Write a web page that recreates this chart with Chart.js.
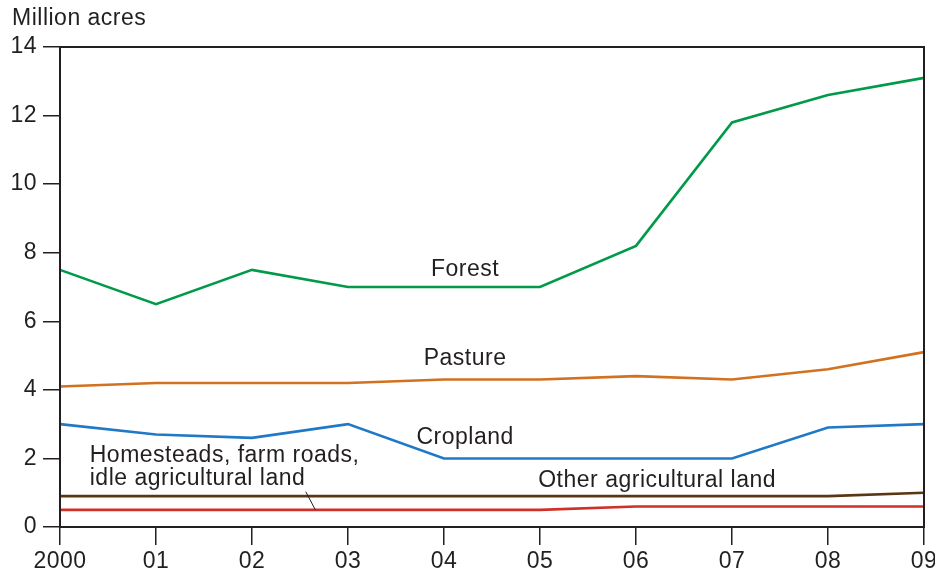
<!DOCTYPE html>
<html>
<head>
<meta charset="utf-8">
<script src="https://cdn.jsdelivr.net/npm/chart.js@4"></script>
<style>
  html, body { margin: 0; padding: 0; background: #fff; }
  #wrap { width: 935px; height: 573px; }
</style>
</head>
<body>
<div id="wrap"><canvas id="chart"></canvas></div>
<script>
// Land in farm uses, million acres, 2000-09
const years = ['2000', '01', '02', '03', '04', '05', '06', '07', '08', '09'];
const forest = [7.5, 6.5, 7.5, 7.0, 7.0, 7.0, 8.2, 11.8, 12.6, 13.1];
const pasture = [4.1, 4.2, 4.2, 4.2, 4.3, 4.3, 4.4, 4.3, 4.6, 5.1];
const cropland = [3.0, 2.7, 2.6, 3.0, 2.0, 2.0, 2.0, 2.0, 2.9, 3.0];
const otherAg = [0.9, 0.9, 0.9, 0.9, 0.9, 0.9, 0.9, 0.9, 0.9, 1.0];
const homesteads = [0.5, 0.5, 0.5, 0.5, 0.5, 0.5, 0.6, 0.6, 0.6, 0.6];
const yTicks = [0, 2, 4, 6, 8, 10, 12, 14];

const INK = '#231f20';
const FONT = "'Liberation Sans', Arial, sans-serif";
const SIZE = 23;

// in-plot series labels, placed in data units
const seriesLabels = [
  { text: 'Forest', x: 4.22, y: 7.5, align: 'center' },
  { text: 'Pasture', x: 4.22, y: 4.9, align: 'center' },
  { text: 'Cropland', x: 4.22, y: 2.62, align: 'center' },
  { text: 'Other agricultural land', x: 6.22, y: 1.34, align: 'center' },
  { text: 'Homesteads, farm roads,', x: 0.31, y: 2.07, align: 'left' },
  { text: 'idle agricultural land', x: 0.31, y: 1.4, align: 'left' },
];

const annotations = {
  id: 'annotations',
  beforeDraw(chart) {
    // the source type is set a little looser than Liberation Sans
    chart.ctx.letterSpacing = '0.5px';
  },
  afterDraw(chart) {
    const { ctx, chartArea: a, scales: { x, y } } = chart;
    ctx.save();
    // box around plot
    ctx.strokeStyle = INK;
    ctx.lineWidth = 2;
    ctx.strokeRect(a.left, a.top, a.right - a.left, a.bottom - a.top);

    ctx.fillStyle = INK;
    ctx.font = SIZE + 'px ' + FONT;
    ctx.textBaseline = 'middle';
    seriesLabels.forEach(l => {
      ctx.textAlign = l.align;
      ctx.fillText(l.text, x.getPixelForValue(l.x), y.getPixelForValue(l.y));
    });

    // leader from homesteads label to its line
    ctx.lineWidth = 1;
    ctx.beginPath();
    ctx.moveTo(x.getPixelForValue(2.56), y.getPixelForValue(1.03));
    ctx.lineTo(x.getPixelForValue(2.66), y.getPixelForValue(0.5));
    ctx.stroke();

    ctx.textAlign = 'left';
    ctx.fillText('Million acres', 12, 19);
    ctx.restore();
  },
};

const line = (label, data, color) => ({
  label, data,
  borderColor: color,
  borderWidth: 2.6,
  pointRadius: 0,
  tension: 0,
  fill: false,
});

new Chart(document.getElementById('chart'), {
  type: 'line',
  data: {
    labels: years,
    datasets: [
      line('Forest', forest, '#009a49'),
      line('Pasture', pasture, '#d2711f'),
      line('Cropland', cropland, '#2079c7'),
      line('Other agricultural land', otherAg, '#5a3714'),
      line('Homesteads, farm roads, idle agricultural land', homesteads, '#d0302a'),
    ],
  },
  options: {
    responsive: true,
    maintainAspectRatio: false,
    animation: false,
    layout: { padding: { top: 47, right: 11, left: 0, bottom: 0 } },
    plugins: {
      legend: { display: false },
      tooltip: { enabled: false },
    },
    scales: {
      x: {
        offset: false,
        grid: { drawOnChartArea: false, drawTicks: true, tickLength: 18, color: INK, lineWidth: 1.5 },
        border: { display: true, color: INK, width: 2 },
        ticks: { font: { family: FONT, size: SIZE }, color: INK, padding: 3, maxRotation: 0, autoSkip: false },
        afterFit: (s) => { s.height = 46; s.paddingLeft = 0; s.paddingRight = 0; },
      },
      y: {
        min: 0,
        max: 14,
        afterBuildTicks: (s) => { s.ticks = yTicks.map(v => ({ value: v })); },
        grid: { drawOnChartArea: false, drawTicks: true, tickLength: 17, color: INK, lineWidth: 1.5 },
        border: { display: true, color: INK, width: 2 },
        ticks: { font: { family: FONT, size: SIZE }, color: INK, padding: 6 },
        afterFit: (s) => { s.width = 60; s.paddingTop = 0; s.paddingBottom = 0; },
      },
    },
  },
  plugins: [annotations],
});
</script>
</body>
</html>
